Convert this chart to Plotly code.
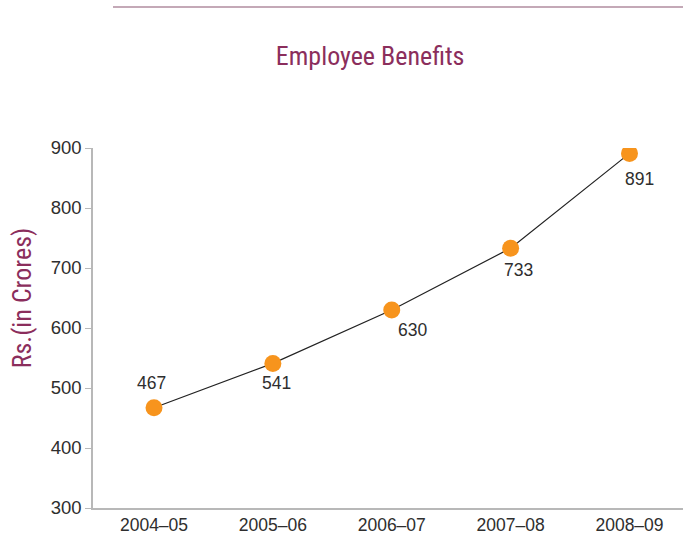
import plotly.graph_objects as go

# Employee benefits by financial year (Rs. in Crores)
years = ["2004–05", "2005–06", "2006–07", "2007–08", "2008–09"]
benefits = [467, 541, 630, 733, 891]

# label placement offsets (pixels) for each data label
label_dx = [-2, 4, 21, 8, 10]
label_dy = [25, -20, -20, -22, -26]

y_ticks = [300, 400, 500, 600, 700, 800, 900]

PURPLE = "#8B2E5C"
ORANGE = "#F7941D"
TEXT = "#2E2E2E"
AXIS = "#B8B8B8"
NUM_FONT = "Liberation Sans, Arial, sans-serif"
HEAD_FONT = "Liberation Sans Narrow, Roboto Condensed, Open Sans, sans-serif"

fig = go.Figure()
fig.add_trace(go.Scatter(
    x=years, y=benefits, mode="lines+markers",
    line=dict(color="#222222", width=1.2),
    marker=dict(color=ORANGE, size=17, line=dict(width=0)),
    hoverinfo="x+y", showlegend=False,
))

for yr, v, dx, dy in zip(years, benefits, label_dx, label_dy):
    fig.add_annotation(x=yr, y=v, text=str(v), showarrow=False,
                       xshift=dx, yshift=dy,
                       font=dict(family=NUM_FONT, size=17.5, color=TEXT))

# y-axis title
fig.add_annotation(xref="paper", yref="paper", x=-0.12, y=0.583,
                   text="Rs.(in Crores)", textangle=-90, showarrow=False,
                   xanchor="center", yanchor="middle",
                   font=dict(family=HEAD_FONT, size=26, color=PURPLE))

# rule across the top of the page
fig.add_shape(type="line", xref="paper", yref="paper",
              x0=0.0339, x1=1.0, y0=1.3917, y1=1.3917,
              line=dict(color="#8A5470", width=1.2))

fig.update_layout(
    width=683, height=537,
    margin=dict(l=93, r=0, t=148, b=29),
    paper_bgcolor="white", plot_bgcolor="white",
    title=dict(text="Employee Benefits", x=0.542, xanchor="center",
               y=1 - 56 / 537, yanchor="middle", yref="container",
               font=dict(family=HEAD_FONT, size=26, color=PURPLE)),
    xaxis=dict(type="category", range=[-0.513, 4.45], showgrid=False,
               showline=True, linecolor=AXIS, linewidth=1.5, ticks="",
               tickfont=dict(family=NUM_FONT, size=17.5, color=TEXT),
               zeroline=False),
    yaxis=dict(range=[300, 900], tickvals=y_ticks, showgrid=False,
               showline=True, linecolor=AXIS, linewidth=1.5,
               ticks="outside", ticklen=6, tickcolor=AXIS, tickwidth=1.2,
               tickfont=dict(family=NUM_FONT, size=18.5, color=TEXT),
               zeroline=False),
)

fig.write_html("out.html")
